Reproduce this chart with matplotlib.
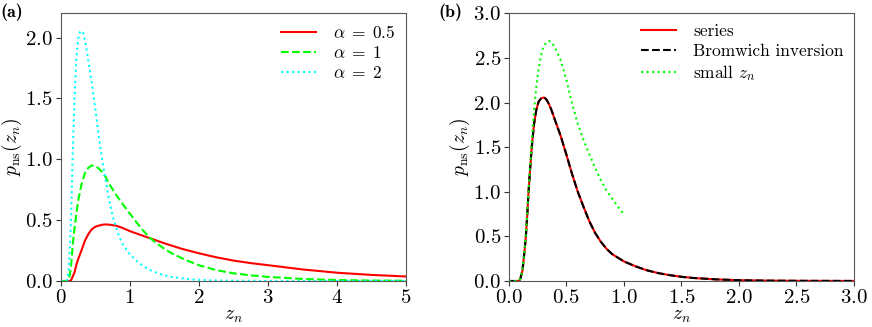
import matplotlib as mpl
import matplotlib.pyplot as plt

mpl.rcParams.update(
    {
        "font.family": "serif",
        "font.serif": ["cmr10"],
        "mathtext.fontset": "cm",
        "axes.formatter.use_mathtext": True,
        "font.size": 12.5,
        "xtick.labelsize": 15,
        "ytick.labelsize": 15,
        "axes.labelsize": 14,
        "axes.unicode_minus": False,
        "axes.edgecolor": "0.35",
        "lines.linewidth": 1.5,
    }
)

# values
# alpha = 2 curve (identical to the "series" curve in panel b)
z_a2 = [0.0, 0.05, 0.08, 0.09, 0.10, 0.12, 0.14, 0.15, 0.16, 0.17, 0.18, 0.20,
        0.22, 0.24, 0.26, 0.28, 0.30, 0.31, 0.33, 0.35, 0.37, 0.40, 0.45, 0.50,
        0.55, 0.60, 0.65, 0.70, 0.75, 0.80, 0.85, 0.90, 0.95, 1.00, 1.10, 1.20,
        1.30, 1.40, 1.50, 1.60, 1.80, 2.00, 2.25, 2.50, 3.00, 4.00, 5.00]
p_a2 = [0.0, 0.0, 0.0, 0.005, 0.02, 0.12, 0.37, 0.52, 0.72, 0.95, 1.15, 1.50,
        1.76, 1.92, 2.01, 2.045, 2.055, 2.055, 2.03, 1.98, 1.92, 1.81, 1.63, 1.42,
        1.20, 1.00, 0.83, 0.67, 0.54, 0.44, 0.36, 0.30, 0.26, 0.22, 0.165, 0.12,
        0.088, 0.065, 0.047, 0.034, 0.018, 0.009, 0.004, 0.002, 0.0005, 0.0, 0.0]

z_a1 = [0.0, 0.10, 0.12, 0.15, 0.178, 0.20, 0.25, 0.30, 0.35, 0.40, 0.45, 0.50,
        0.55, 0.60, 0.65, 0.70, 0.80, 0.90, 1.00, 1.10, 1.20, 1.30, 1.40, 1.50,
        1.60, 1.80, 2.00, 2.25, 2.50, 2.75, 3.00, 3.50, 4.00, 4.50, 5.00]
p_a1 = [0.0, 0.0, 0.01, 0.12, 0.32, 0.43, 0.65, 0.79, 0.885, 0.93, 0.95, 0.945,
        0.925, 0.895, 0.855, 0.80, 0.71, 0.63, 0.555, 0.48, 0.41, 0.35, 0.305, 0.265,
        0.23, 0.175, 0.13, 0.09, 0.063, 0.046, 0.034, 0.017, 0.008, 0.004, 0.002]

z_a05 = [0.0, 0.13, 0.15, 0.20, 0.226, 0.25, 0.28, 0.30, 0.35, 0.40, 0.45, 0.50,
         0.55, 0.60, 0.65, 0.70, 0.80, 0.90, 1.00, 1.10, 1.20, 1.30, 1.50, 1.75,
         2.00, 2.25, 2.50, 2.75, 3.00, 3.50, 4.00, 4.50, 5.00]
p_a05 = [0.0, 0.0, 0.005, 0.07, 0.131, 0.175, 0.22, 0.25, 0.33, 0.385, 0.425, 0.445,
         0.455, 0.462, 0.465, 0.463, 0.455, 0.435, 0.41, 0.39, 0.37, 0.35, 0.31, 0.265,
         0.228, 0.195, 0.168, 0.147, 0.13, 0.095, 0.068, 0.05, 0.037]

# panel (b)
z_series = z_a2
p_series = p_a2
p_bromwich = list(p_a2)

z_small = [0.0, 0.08, 0.10, 0.12, 0.14, 0.15, 0.16, 0.17, 0.18, 0.20, 0.22, 0.24,
           0.26, 0.28, 0.30, 0.33, 0.35, 0.37, 0.40, 0.45, 0.50, 0.55, 0.60, 0.65,
           0.70, 0.75, 0.80, 0.85, 0.90, 0.95, 1.00]
p_small = [0.0, 0.0, 0.02, 0.12, 0.38, 0.53, 0.74, 0.97, 1.18, 1.55, 1.92, 2.18,
           2.38, 2.52, 2.62, 2.68, 2.69, 2.68, 2.62, 2.48, 2.26, 1.99, 1.76, 1.58,
           1.42, 1.27, 1.13, 1.01, 0.92, 0.83, 0.75]

fig = plt.figure(figsize=(8.72, 3.27), dpi=100)
ax1 = fig.add_axes([0.0696, 0.1407, 0.396, 0.8187])
ax2 = fig.add_axes([0.5834, 0.1407, 0.396, 0.8187])

# --- panel (a) ---
ax1.plot(z_a05, p_a05, "-", color="red", label=r"$\alpha\;=\;0.5$")
ax1.plot(z_a1, p_a1, "--", color="lime", label=r"$\alpha\;=\;1$")
ax1.plot(z_a2, p_a2, ":", color="cyan", label=r"$\alpha\;=\;2$")
ax1.set_xlim(0, 5)
ax1.set_ylim(0, 2.2)
ax1.set_xticks([0, 1, 2, 3, 4, 5])
ax1.set_yticks([0.0, 0.5, 1.0, 1.5, 2.0])
ax1.set_xlabel(r"$z_n$", labelpad=0)
ax1.set_ylabel(r"$p_{\rm ns}(z_n)$", labelpad=1)
ax1.legend(loc="upper right", frameon=False, borderaxespad=0.2,
           labelspacing=0.25, handletextpad=1.0)

# --- panel (b) ---
ax2.plot(z_series, p_series, "-", color="red", label="series")
ax2.plot(z_series, p_bromwich, "--", color="black", label="Bromwich inversion")
ax2.plot(z_small, p_small, ":", color="lime", label=r"small $z_n$")
ax2.set_xlim(0, 3)
ax2.set_ylim(0, 3)
ax2.set_xticks([0.0, 0.5, 1.0, 1.5, 2.0, 2.5, 3.0])
ax2.set_yticks([0.0, 0.5, 1.0, 1.5, 2.0, 2.5, 3.0])
ax2.set_xlabel(r"$z_n$", labelpad=0)
ax2.set_ylabel(r"$p_{\rm ns}(z_n)$", labelpad=1)
ax2.legend(loc="upper right", frameon=False, borderaxespad=0.2,
           labelspacing=0.25, handletextpad=1.0)

for ax in (ax1, ax2):
    ax.tick_params(colors="0.2", labelcolor="black", pad=2)

fig.text(0.001, 0.99, "(a)", fontfamily="cmb10", fontsize=13, va="top", ha="left")
fig.text(0.503, 0.99, "(b)", fontfamily="cmb10", fontsize=13, va="top", ha="left")

fig.savefig("out.png", dpi=100)
